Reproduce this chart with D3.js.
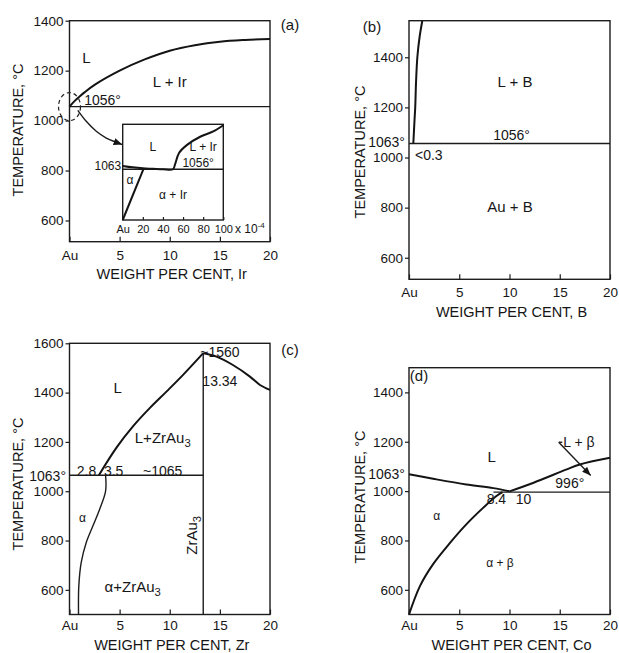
<!DOCTYPE html>
<html>
<head>
<meta charset="utf-8">
<script src="https://d3js.org/d3.v7.min.js"></script>
<style>
  body { margin: 0; background: #fff; }
  svg text { font-family: "Liberation Sans", Arial, Helvetica, sans-serif; fill: #161616; }
  .frame { fill: none; stroke: #1c1c1c; stroke-width: 1.4; }
  .tick line { stroke: #1c1c1c; stroke-width: 1.2; }
  .tick text { font-size: 13.5px; fill: #161616; }
  .inset .tick text { font-size: 11px; }
  .curve { fill: none; stroke: #141414; stroke-width: 2; }
  .thin { fill: none; stroke: #1c1c1c; stroke-width: 1.4; }
  .lab { font-size: 15px; }
  .num { font-size: 14px; }
  .small { font-size: 12px; }
  .title { font-size: 14.5px; }
</style>
<title>Au binary phase diagrams</title>
</head>
<body>
<svg width="619" height="653"></svg>
<script>
// ---- shared ticks ----
var compTicks = [0, 5, 10, 15, 20];
var tempTicks = [600, 800, 1000, 1200, 1400];
var tempTicksC = [600, 800, 1000, 1200, 1400, 1600];
var insetTicks = [0, 20, 40, 60, 80, 100];

// ---- (a) Au-Ir ----
var irLiqWt = [0, 0.5, 1, 1.5, 2.5, 5, 7.5, 10, 12.5, 15, 17.5, 20];
var irLiqT  = [1056, 1078, 1096, 1113, 1143, 1200, 1245, 1280, 1302, 1316, 1323, 1327];
var irEutT = 1056;
// inset, wt% x 10^-4
var insLiqWt = [0, 10, 20, 30, 40, 50, 52, 56, 64, 77, 90, 100];
var insLiqT  = [1063, 1060, 1058, 1057, 1056, 1056, 1066, 1090, 1107, 1124, 1135, 1148];
var insSolWt = [0, 20.5];
var insSolT  = [950, 1056];
var arrowAWt = [0.83, 1.67, 2.67, 3.67, 4.67, 5.27];
var arrowAT  = [1041, 997, 957, 930, 913, 904];

// ---- (b) Au-B ----
var bLiqWt = [0.43, 0.55, 0.62, 0.7, 0.83, 1.05, 1.32];
var bLiqT  = [1056, 1150, 1200, 1300, 1400, 1480, 1545];
var bEutT = 1056;

// ---- (c) Au-Zr ----
var zrLiqLWt = [2.93, 4.67, 6.33, 8.0, 9.67, 11.33, 13.34];
var zrLiqLT  = [1065, 1176, 1263, 1337, 1404, 1472, 1560];
var zrLiqRWt = [13.34, 14.67, 16.3, 18, 19, 20];
var zrLiqRT  = [1560, 1546, 1512, 1465, 1431, 1411];
var zrSolWt = [3.6, 3.6, 3.0, 2.33, 1.67, 1.17, 0.93, 0.9];
var zrSolT  = [1065, 1000, 926, 859, 792, 711, 616, 500];
var zrEutT = 1065;
var zrAu3Wt = 13.34;

// ---- (d) Au-Co ----
var coLiqLWt = [0, 2.4, 5.7, 8.4, 10];
var coLiqLT  = [1068, 1050, 1027, 1012, 999];
var coLiqRWt = [10, 12.4, 15.7, 17, 20];
var coLiqRT  = [999, 1034, 1088, 1108, 1135];
var coSolWt = [0, 1.1, 2.4, 4.1, 5.7, 7.4, 8.7, 9.3];
var coSolT  = [500, 616, 704, 791, 865, 933, 980, 996];
var coEutWt = [8.4, 20];
var coEutT = 996;
var arrowDWt = [14.9, 18.08];
var arrowDT  = [1198, 1063];

var svg = d3.select("svg");
var zip = function (a, b) { return a.map(function (v, i) { return [v, b[i]]; }); };

svg.append("defs").append("marker")
    .attr("id", "arrow")
    .attr("viewBox", "0 0 10 8")
    .attr("refX", 10).attr("refY", 4)
    .attr("markerWidth", 9).attr("markerHeight", 7)
    .attr("markerUnits", "userSpaceOnUse")
    .attr("orient", "auto")
    .append("path").attr("d", "M0,0L10,4L0,8z").attr("fill", "#141414");

function fmtAu(d) { return d === 0 ? "Au" : String(d); }

function panel(o) {
    var x = d3.scaleLinear().domain([0, 20]).range(o.xr);
    var y = d3.scaleLinear().domain(o.yd).range(o.yr);
    var g = svg.append("g");

    g.append("g")
        .attr("transform", "translate(" + o.xr[0] + ",0)")
        .call(d3.axisLeft(y).tickValues(o.yt).tickSizeInner(4).tickSizeOuter(0).tickPadding(2)
            .tickFormat(function (d) { return String(d); }))
        .call(function (a) { a.select(".domain").remove(); });

    g.append("g")
        .attr("transform", "translate(0," + o.yr[0] + ")")
        .call(d3.axisBottom(x).tickValues(compTicks).tickSizeInner(-5).tickSizeOuter(0)
            .tickPadding(o.xpad).tickFormat(fmtAu))
        .call(function (a) { a.select(".domain").remove(); });

    g.append("rect").attr("class", "frame")
        .attr("x", o.xr[0]).attr("y", o.yr[1])
        .attr("width", o.xr[1] - o.xr[0]).attr("height", o.yr[0] - o.yr[1]);

    g.append("text").attr("class", "title")
        .attr("x", (o.xr[0] + o.xr[1]) / 2 + 2).attr("y", o.xty).attr("dy", "0.35em")
        .attr("text-anchor", "middle").text(o.xtitle);

    g.append("text").attr("class", "title")
        .attr("transform", "translate(" + o.ytx + "," + o.yty + ") rotate(-90)")
        .attr("dy", "0.35em").attr("text-anchor", "middle").text("TEMPERATURE, \u00B0C");

    g.append("text").attr("class", "lab")
        .attr("x", o.letter[0]).attr("y", o.letter[1]).attr("dy", "0.35em")
        .attr("text-anchor", "middle").text(o.tag);

    return { g: g, x: x, y: y };
}

function curve(p, pts, cls, cv) {
    var line = d3.line()
        .x(function (d) { return p.x(d[0]); })
        .y(function (d) { return p.y(d[1]); })
        .curve(cv || d3.curveCatmullRom.alpha(0.5));
    return p.g.append("path").attr("class", cls || "curve").attr("d", line(pts));
}

// text with optional subscript: parts = [["ZrAu"], ["3", "sub"]]
function label(p, parts, wt, t, cls, anchor) {
    var el = p.g.append("text").attr("class", cls || "lab")
        .attr("x", p.x(wt)).attr("y", p.y(t)).attr("dy", "0.35em")
        .attr("text-anchor", anchor || "middle");
    if (typeof parts === "string") { el.text(parts); return el; }
    parts.forEach(function (s) {
        var ts = el.append("tspan").text(s[0]);
        if (s[1] === "sub") ts.attr("dy", 4).attr("font-size", "0.75em");
    });
    return el;
}

// ============ (a) ============
var A = panel({ xr: [69.5, 270], yd: [515, 1400], yr: [241.7, 20.7], yt: tempTicks, xpad: 9,
    xtitle: "WEIGHT PER CENT, Ir", xty: 274, ytx: 18, yty: 130, tag: "(a)", letter: [290, 25] });
A.g.append("line").attr("class", "thin")
    .attr("x1", A.x(0)).attr("x2", A.x(20)).attr("y1", A.y(irEutT)).attr("y2", A.y(irEutT));
curve(A, zip(irLiqWt, irLiqT));
label(A, "L", 1.7, 1251);
label(A, "L + Ir", 10, 1155);
label(A, "1056\u00B0", 3.3, 1082, "num");
A.g.append("ellipse").attr("cx", A.x(0)).attr("cy", A.y(irEutT)).attr("rx", 11).attr("ry", 14)
    .attr("fill", "none").attr("stroke", "#222").attr("stroke-width", 1.2).attr("stroke-dasharray", "4,3");
curve(A, zip(arrowAWt, arrowAT), "thin").attr("marker-end", "url(#arrow)");

// inset
var I = { x: d3.scaleLinear().domain([0, 100]).range([122.7, 223.3]),
          y: d3.scaleLinear().domain([950, 1150]).range([220, 124.3]) };
I.g = A.g.append("g").attr("class", "inset");
I.g.append("rect").attr("x", 122.7).attr("y", 124.3).attr("width", 100.6).attr("height", 95.7)
    .attr("fill", "#fff");
I.g.append("g").attr("transform", "translate(0,220)")
    .call(d3.axisBottom(I.x).tickValues(insetTicks).tickSizeInner(-3).tickSizeOuter(0)
        .tickPadding(5).tickFormat(fmtAu))
    .call(function (a) { a.select(".domain").remove(); });
I.g.append("rect").attr("class", "frame").attr("x", 122.7).attr("y", 124.3)
    .attr("width", 100.6).attr("height", 95.7);
I.g.append("line").attr("class", "thin")
    .attr("x1", I.x(0)).attr("x2", I.x(100)).attr("y1", I.y(1056)).attr("y2", I.y(1056));
curve(I, zip(insLiqWt, insLiqT)).attr("stroke-width", 1.8);
curve(I, zip(insSolWt, insSolT)).attr("stroke-width", 1.8);
label(I, "L", 30, 1103, "small");
label(I, "L + Ir", 80, 1103, "small");
label(I, "1056\u00B0", 75, 1069, "small");
label(I, "\u03B1", 7.3, 1034, "small");
label(I, "\u03B1 + Ir", 50, 1002, "small");
label(I, "1063", -1.5, 1063, "small", "end");
var xl = I.g.append("text").attr("class", "small").attr("font-size", "11px")
    .attr("x", 235).attr("y", 229).attr("dy", "0.35em");
xl.append("tspan").text("x 10");
xl.append("tspan").attr("dy", -5).attr("font-size", "8px").text("-4");

// ============ (b) ============
var B = panel({ xr: [409, 610], yd: [514, 1546], yr: [279.3, 20.7], yt: tempTicks, xpad: 8,
    xtitle: "WEIGHT PER CENT,  B", xty: 312, ytx: 360, yty: 152, tag: "(b)", letter: [372, 27] });
B.g.append("line").attr("class", "thin")
    .attr("x1", B.x(0)).attr("x2", B.x(20)).attr("y1", B.y(bEutT)).attr("y2", B.y(bEutT));
curve(B, zip(bLiqWt, bLiqT));
label(B, "L + B", 10.55, 1303);
label(B, "1056\u00B0", 10.2, 1090, "num");
label(B, "<0.3", 0.6, 1010, "num", "start");
label(B, "Au + B", 10.05, 804);
label(B, "1063\u00B0", -0.4, 1060, "num", "end");

// ============ (c) ============
var C = panel({ xr: [69.5, 270], yd: [500, 1600], yr: [614.5, 343.3], yt: tempTicksC, xpad: 6,
    xtitle: "WEIGHT PER CENT, Zr", xty: 645, ytx: 18, yty: 484, tag: "(c)", letter: [290, 350] });
C.g.append("line").attr("class", "thin")
    .attr("x1", C.x(0)).attr("x2", C.x(zrAu3Wt)).attr("y1", C.y(zrEutT)).attr("y2", C.y(zrEutT));
C.g.append("line").attr("class", "thin")
    .attr("x1", C.x(zrAu3Wt)).attr("x2", C.x(zrAu3Wt)).attr("y1", C.y(500)).attr("y2", C.y(1560));
curve(C, zip(zrLiqLWt, zrLiqLT));
curve(C, zip(zrLiqRWt, zrLiqRT));
curve(C, zip(zrSolWt, zrSolT), "thin").attr("stroke-width", 1.7);
label(C, "~1560", 15.0, 1566, "num");
label(C, "13.34", 15.0, 1445, "num");
label(C, "L", 4.8, 1420);
label(C, [["L+ZrAu"], ["3", "sub"]], 9.3, 1217);
label(C, "2.8", 1.7, 1081, "num");
label(C, "3.5", 4.4, 1081, "num");
label(C, "~1065", 9.3, 1081, "num");
label(C, "1063\u00B0", -0.35, 1063, "num", "end");
label(C, "\u03B1", 1.3, 894, "small");
label(C, [["\u03B1+ZrAu"], ["3", "sub"]], 6.3, 611);
C.g.append("text").attr("class", "lab")
    .attr("transform", "translate(" + C.x(12.15) + "," + C.y(821) + ") rotate(-90)")
    .attr("dy", "0.35em").attr("text-anchor", "middle")
    .call(function (t) {
        t.append("tspan").text("ZrAu");
        t.append("tspan").attr("dy", 4).attr("font-size", "0.75em").text("3");
    });

// ============ (d) ============
var D = panel({ xr: [409, 610], yd: [500, 1500], yr: [614.5, 367.7], yt: tempTicks, xpad: 6,
    xtitle: "WEIGHT PER CENT, Co", xty: 645, ytx: 360, yty: 497, tag: "(d)", letter: [419, 376] });
D.g.append("line").attr("class", "thin")
    .attr("x1", D.x(coEutWt[0])).attr("x2", D.x(coEutWt[1])).attr("y1", D.y(coEutT)).attr("y2", D.y(coEutT));
curve(D, zip(coLiqLWt, coLiqLT));
curve(D, zip(coLiqRWt, coLiqRT));
curve(D, zip(coSolWt, coSolT));
curve(D, zip(arrowDWt, arrowDT), "thin", d3.curveLinear).attr("marker-end", "url(#arrow)");
D.g.append("line").attr("class", "thin")
    .attr("x1", D.x(arrowDWt[0])).attr("x2", D.x(arrowDWt[0] + 0.35))
    .attr("y1", D.y(arrowDT[0])).attr("y2", D.y(arrowDT[0]));
label(D, "L", 8.23, 1141);
label(D, "L + \u03B2", 15.35, 1198, "num", "start");
label(D, "1063\u00B0", -0.4, 1067, "num", "end");
label(D, "996\u00B0", 16.0, 1034, "num");
label(D, "8.4", 8.7, 966, "num");
label(D, "10", 11.4, 966, "num");
label(D, "\u03B1", 2.76, 899, "small");
label(D, "\u03B1 + \u03B2", 9.05, 711, "small");
</script>
</body>
</html>
